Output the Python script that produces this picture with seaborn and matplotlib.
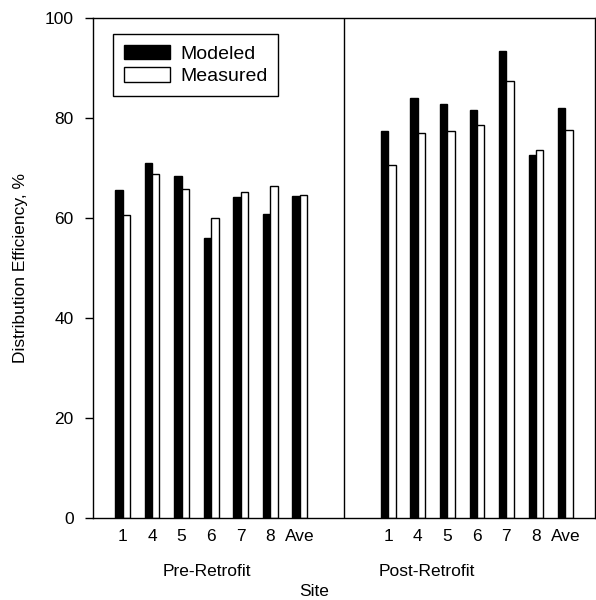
import pandas
import seaborn as sns
from matplotlib import pyplot as plt
from matplotlib import transforms

SITES = ["1", "4", "5", "6", "7", "8", "Ave"]
PRE_MODELED = [65.6, 71.1, 68.5, 56.1, 64.3, 60.9, 64.5]
PRE_MEASURED = [60.7, 68.9, 65.9, 60.1, 65.3, 66.5, 64.7]
POST_MODELED = [77.4, 84.0, 82.9, 81.7, 93.5, 72.7, 82.1]
POST_MEASURED = [70.7, 77.1, 77.5, 78.7, 87.4, 73.6, 77.7]
PERIODS = ["Pre-Retrofit", "Post-Retrofit"]
SERIES = ["Modeled", "Measured"]

# slot offset of the second group (leaves a gap with the divider line in it)
POST_OFFSET = 9

sns.set_style("ticks")
plt.rcParams['font.family'] = ['Liberation Sans', 'DejaVu Sans']
plt.rcParams.update({
    'text.color': 'black', 'axes.labelcolor': 'black',
    'xtick.color': 'black', 'ytick.color': 'black', 'axes.edgecolor': 'black',
})

rows = []
for i, site in enumerate(SITES):
    rows.append([i, "Modeled", PRE_MODELED[i]])
    rows.append([i, "Measured", PRE_MEASURED[i]])
    rows.append([i + POST_OFFSET, "Modeled", POST_MODELED[i]])
    rows.append([i + POST_OFFSET, "Measured", POST_MEASURED[i]])
df = pandas.DataFrame(rows, columns=['Slot', 'Series', 'Efficiency'])

fig, ax = plt.subplots(figsize=(5.96, 6.0), dpi=100)
fig.subplots_adjust(left=93 / 596, right=595 / 596, top=1 - 18 / 600, bottom=1 - 518 / 600)

sns.barplot(
    data=df, x='Slot', y='Efficiency', hue='Series', hue_order=SERIES,
    palette={"Modeled": "black", "Measured": "white"}, native_scale=True,
    width=0.5, errorbar=None, edgecolor="black", linewidth=1.0, ax=ax
)

ax.axvline(7.5, color='black', linewidth=1.0)
ax.set_xlim(-1, 16)
ax.set_ylim(0, 100)
ax.set_yticks(range(0, 101, 20))

slots = list(range(len(SITES))) + [i + POST_OFFSET for i in range(len(SITES))]
ax.set_xticks(slots)
ax.set_xticklabels(SITES + SITES)
ax.tick_params(axis='x', length=0, pad=8, labelsize=12.5)
ax.tick_params(axis='y', length=6, width=1, pad=8, labelsize=12.5, direction='out')

for spine in ax.spines.values():
    spine.set_linewidth(1.0)
    spine.set_color('black')

trans = transforms.blended_transform_factory(ax.transData, ax.transAxes)
ax.text(2.84, -0.108, PERIODS[0], transform=trans, ha='center', va='center', fontsize=12.5)
ax.text(10.29, -0.108, PERIODS[1], transform=trans, ha='center', va='center', fontsize=12.5)
ax.text(6.5, -0.148, "Site", transform=trans, ha='center', va='center', fontsize=12.5)

ax.set_xlabel("")
ax.set_ylabel("Distribution Efficiency, %", fontsize=12.5, labelpad=12)

ax.legend(
    loc='upper left', bbox_to_anchor=(0.04, 0.968), borderaxespad=0,
    fontsize=14, frameon=True, fancybox=False, edgecolor='black', framealpha=1,
    handlelength=2.4, handleheight=0.75, handletextpad=0.5,
    borderpad=0.55, labelspacing=0.25
)
ax.get_legend().get_frame().set_linewidth(1.0)

fig.savefig("out.png", dpi=100)
